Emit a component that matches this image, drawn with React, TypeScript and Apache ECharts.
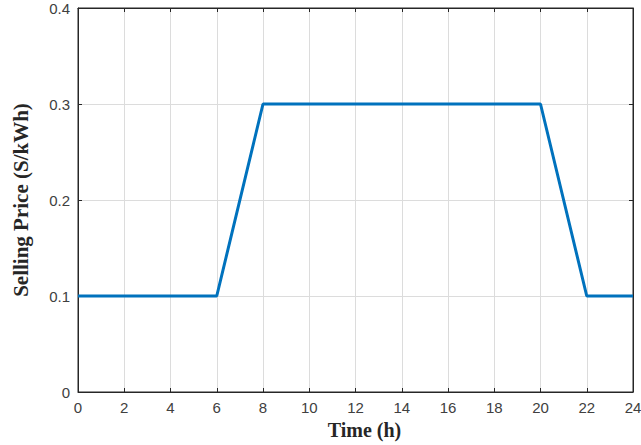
import React, { useEffect, useRef } from "react";
import * as echarts from "echarts";

const hours = [0, 6, 8, 20, 22, 24];
const prices = [0.1, 0.1, 0.3, 0.3, 0.1, 0.1];
const xTitle = "Time (h)";
const yTitle = "Selling Price (S/kWh)";

export default function App() {
  const ref = useRef<HTMLDivElement>(null);
  useEffect(() => {
    if (!ref.current) return;
    const chart = echarts.init(ref.current, null, { renderer: "svg" });
    const labelStyle = { color: "#404040", fontSize: 15, fontFamily: "Liberation Sans, Arial, sans-serif" };
    const titleStyle = { fontFamily: "Liberation Serif, Times New Roman, serif", fontWeight: "bold", color: "#262626" };
    const axisCol = "#262626";
    chart.setOption({
      animation: false,
      grid: { left: 78, top: 8, right: 8, bottom: 53, containLabel: false, outerBoundsMode: "none", show: true, borderColor: axisCol, borderWidth: 1, backgroundColor: "#fff" },
      xAxis: [
        {
          type: "value", min: 0, max: 24, interval: 2,
          name: xTitle, nameLocation: "middle", nameGap: 27,
          nameTextStyle: { ...titleStyle, fontSize: 20, padding: [0, 0, 0, 18] },
          axisLine: { show: true, onZero: false, lineStyle: { color: axisCol } },
          axisTick: { show: true, inside: true, length: 4, lineStyle: { color: axisCol } },
          axisLabel: { ...labelStyle, margin: 8 },
          splitLine: { show: true, lineStyle: { color: "#dcdcdc", width: 1 } },
        },
        {
          type: "value", min: 0, max: 24, interval: 2, position: "top",
          axisLine: { show: true, onZero: false, lineStyle: { color: axisCol } },
          axisTick: { show: true, inside: true, length: 4, lineStyle: { color: axisCol } },
          axisLabel: { show: false },
          splitLine: { show: false },
        },
      ],
      yAxis: [
        {
          type: "value", min: 0, max: 0.4, interval: 0.1,
          name: yTitle, nameLocation: "middle", nameGap: 47, nameRotate: 90,
          nameTextStyle: { ...titleStyle, fontSize: 21 },
          axisLine: { show: true, lineStyle: { color: axisCol } },
          axisTick: { show: true, inside: true, length: 4, lineStyle: { color: axisCol } },
          axisLabel: { ...labelStyle, margin: 8, formatter: (v: number) => (v === 0 ? "0" : v.toFixed(1)) },
          splitLine: { show: true, lineStyle: { color: "#dcdcdc", width: 1 } },
        },
        {
          type: "value", min: 0, max: 0.4, interval: 0.1, position: "right",
          axisLine: { show: true, onZero: false, lineStyle: { color: axisCol } },
          axisTick: { show: true, inside: true, length: 4, lineStyle: { color: axisCol } },
          axisLabel: { show: false },
          splitLine: { show: false },
        },
      ],
      series: [
        {
          type: "line",
          data: hours.map((h, i) => [h, prices[i]]),
          showSymbol: false,
          lineStyle: { color: "#0072BD", width: 3 },
          itemStyle: { color: "#0072BD" },
        },
      ],
    });
    return () => chart.dispose();
  }, []);
  return <div ref={ref} style={{ width: 641, height: 445, position: "absolute", left: 0, top: 0 }} />;
}
